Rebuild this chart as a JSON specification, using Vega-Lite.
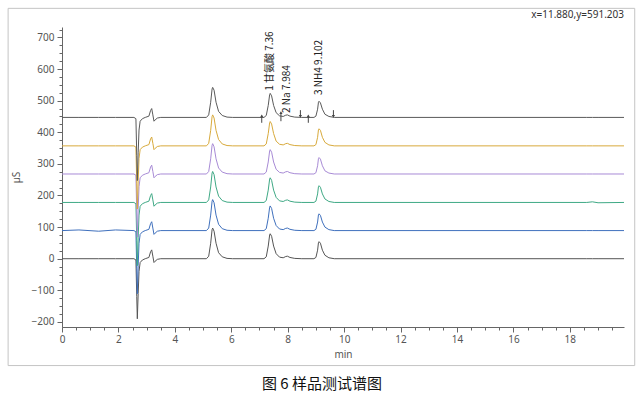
{
  "$schema": "https://vega.github.io/schema/vega-lite/v6.json",
  "width": 562,
  "height": 300,
  "autosize": {"type": "none"},
  "padding": {"left": 62, "top": 27, "right": 17, "bottom": 71},
  "background": "white",
  "config": {"view": {"stroke": null}, "font": "Noto Sans"},
  "title": {"text": "图 6 样品测试谱图", "orient": "bottom", "anchor": "middle", "dx": -21, "offset": 11, "font": "Noto Sans CJK SC", "fontSize": 15, "fontWeight": "normal", "color": "#111"},
  "datasets": {
    "traces": [
      {"t": 0, "s1": 0, "s2": 89, "s3": 178, "s4": 268, "s5": 357, "s6": 447},
      {"t": 0.6, "s1": 0, "s2": 91, "s3": 178, "s4": 268, "s5": 357, "s6": 447},
      {"t": 1.3, "s1": 0, "s2": 87, "s3": 178, "s4": 268, "s5": 357, "s6": 447},
      {"t": 1.9, "s1": 0, "s2": 91, "s3": 178, "s4": 268, "s5": 357, "s6": 447},
      {"t": 2.55, "s1": 0, "s2": 89, "s3": 178, "s4": 268, "s5": 357, "s6": 447},
      {"t": 2.62, "s1": -4, "s2": 85, "s3": 174, "s4": 264, "s5": 353, "s6": 443},
      {"t": 2.65, "s1": -120, "s2": -31, "s3": 58, "s4": 148, "s5": 237, "s6": 327},
      {"t": 2.67, "s1": -190, "s2": -111, "s3": -22, "s4": 68, "s5": 157, "s6": 247},
      {"t": 2.7, "s1": -110, "s2": -21, "s3": 68, "s4": 158, "s5": 247, "s6": 337},
      {"t": 2.73, "s1": -40, "s2": 49, "s3": 138, "s4": 228, "s5": 317, "s6": 407},
      {"t": 2.77, "s1": -12, "s2": 77, "s3": 166, "s4": 256, "s5": 345, "s6": 435},
      {"t": 2.85, "s1": -4, "s2": 85, "s3": 174, "s4": 264, "s5": 353, "s6": 443},
      {"t": 2.95, "s1": 0, "s2": 89, "s3": 178, "s4": 268, "s5": 357, "s6": 447},
      {"t": 3.08, "s1": 4, "s2": 93, "s3": 182, "s4": 272, "s5": 361, "s6": 451},
      {"t": 3.14, "s1": 22, "s2": 111, "s3": 200, "s4": 290, "s5": 379, "s6": 469},
      {"t": 3.18, "s1": 28, "s2": 117, "s3": 206, "s4": 296, "s5": 385, "s6": 475},
      {"t": 3.22, "s1": 8, "s2": 97, "s3": 186, "s4": 276, "s5": 365, "s6": 455},
      {"t": 3.26, "s1": -12, "s2": 77, "s3": 166, "s4": 256, "s5": 345, "s6": 435},
      {"t": 3.3, "s1": -8, "s2": 81, "s3": 170, "s4": 260, "s5": 349, "s6": 439},
      {"t": 3.38, "s1": -2, "s2": 87, "s3": 176, "s4": 266, "s5": 355, "s6": 445},
      {"t": 3.5, "s1": 0, "s2": 89, "s3": 178, "s4": 268, "s5": 357, "s6": 447},
      {"t": 5.12, "s1": 0, "s2": 89, "s3": 178, "s4": 268, "s5": 357, "s6": 447},
      {"t": 5.2, "s1": 8, "s2": 97, "s3": 186, "s4": 276, "s5": 365, "s6": 455},
      {"t": 5.27, "s1": 49, "s2": 138, "s3": 227, "s4": 316, "s5": 406, "s6": 495},
      {"t": 5.32, "s1": 92, "s2": 182, "s3": 271, "s4": 359, "s5": 450, "s6": 537},
      {"t": 5.34, "s1": 97, "s2": 187, "s3": 276, "s4": 364, "s5": 455, "s6": 542},
      {"t": 5.39, "s1": 87, "s2": 177, "s3": 266, "s4": 354, "s5": 445, "s6": 533},
      {"t": 5.46, "s1": 49, "s2": 138, "s3": 227, "s4": 316, "s5": 406, "s6": 495},
      {"t": 5.55, "s1": 19, "s2": 109, "s3": 198, "s4": 287, "s5": 377, "s6": 466},
      {"t": 5.68, "s1": 6, "s2": 95, "s3": 184, "s4": 274, "s5": 363, "s6": 453},
      {"t": 5.85, "s1": 1, "s2": 90, "s3": 179, "s4": 269, "s5": 358, "s6": 448},
      {"t": 6.05, "s1": 0, "s2": 89, "s3": 178, "s4": 268, "s5": 357, "s6": 447},
      {"t": 7.16, "s1": 0, "s2": 89, "s3": 178, "s4": 268, "s5": 357, "s6": 447},
      {"t": 7.24, "s1": 6, "s2": 95, "s3": 184, "s4": 274, "s5": 363, "s6": 453},
      {"t": 7.31, "s1": 40, "s2": 128, "s3": 217, "s4": 306, "s5": 396, "s6": 485},
      {"t": 7.36, "s1": 75, "s2": 163, "s3": 252, "s4": 341, "s5": 430, "s6": 519},
      {"t": 7.38, "s1": 79, "s2": 167, "s3": 256, "s4": 345, "s5": 434, "s6": 523},
      {"t": 7.43, "s1": 71, "s2": 159, "s3": 248, "s4": 337, "s5": 426, "s6": 515},
      {"t": 7.5, "s1": 40, "s2": 128, "s3": 217, "s4": 306, "s5": 396, "s6": 485},
      {"t": 7.59, "s1": 16, "s2": 105, "s3": 194, "s4": 283, "s5": 372, "s6": 462},
      {"t": 7.71, "s1": 5, "s2": 94, "s3": 183, "s4": 273, "s5": 362, "s6": 452},
      {"t": 7.84, "s1": 3, "s2": 92, "s3": 181, "s4": 271, "s5": 360, "s6": 450},
      {"t": 7.93, "s1": 7, "s2": 96, "s3": 185, "s4": 275, "s5": 364, "s6": 454},
      {"t": 7.99, "s1": 8, "s2": 97, "s3": 186, "s4": 276, "s5": 365, "s6": 455},
      {"t": 8.08, "s1": 4, "s2": 93, "s3": 182, "s4": 272, "s5": 361, "s6": 451},
      {"t": 8.25, "s1": 1, "s2": 90, "s3": 179, "s4": 269, "s5": 358, "s6": 448},
      {"t": 8.5, "s1": 0, "s2": 89, "s3": 178, "s4": 268, "s5": 357, "s6": 447},
      {"t": 8.93, "s1": 0, "s2": 89, "s3": 178, "s4": 268, "s5": 357, "s6": 447},
      {"t": 9.0, "s1": 4, "s2": 93, "s3": 182, "s4": 272, "s5": 361, "s6": 451},
      {"t": 9.06, "s1": 27, "s2": 116, "s3": 205, "s4": 294, "s5": 384, "s6": 473},
      {"t": 9.09, "s1": 51, "s2": 139, "s3": 228, "s4": 317, "s5": 408, "s6": 495},
      {"t": 9.11, "s1": 54, "s2": 142, "s3": 231, "s4": 320, "s5": 411, "s6": 498},
      {"t": 9.16, "s1": 49, "s2": 137, "s3": 226, "s4": 315, "s5": 406, "s6": 493},
      {"t": 9.23, "s1": 27, "s2": 116, "s3": 205, "s4": 294, "s5": 384, "s6": 473},
      {"t": 9.32, "s1": 11, "s2": 100, "s3": 189, "s4": 278, "s5": 368, "s6": 457},
      {"t": 9.46, "s1": 3, "s2": 92, "s3": 181, "s4": 271, "s5": 360, "s6": 450},
      {"t": 9.65, "s1": 0, "s2": 89, "s3": 178, "s4": 268, "s5": 357, "s6": 447},
      {"t": 18.6, "s1": 0, "s2": 89, "s3": 178, "s4": 268, "s5": 357, "s6": 447},
      {"t": 18.8, "s1": 0, "s2": 89, "s3": 180, "s4": 268, "s5": 357, "s6": 447},
      {"t": 19.0, "s1": 0, "s2": 89, "s3": 177, "s4": 268, "s5": 357, "s6": 447},
      {"t": 19.92, "s1": 0, "s2": 89, "s3": 178, "s4": 268, "s5": 357, "s6": 447}
    ],
    "markers": [
      {"t": 7.08, "lo": 430, "hi": 452, "dir": "up", "tip": 452},
      {"t": 7.76, "lo": 435, "hi": 462, "dir": "up", "tip": 462},
      {"t": 8.45, "lo": 450, "hi": 470, "dir": "down", "tip": 450},
      {"t": 8.73, "lo": 430, "hi": 452, "dir": "up", "tip": 452},
      {"t": 9.62, "lo": 450, "hi": 470, "dir": "down", "tip": 450}
    ],
    "labels": [
      {"t": 7.38, "v": 531, "label": "1 甘氨酸 7.36"},
      {"t": 7.99, "v": 461, "label": "2 Na 7.984"},
      {"t": 9.1, "v": 518, "label": "3 NH4 9.102"}
    ],
    "note": [{"text": "x=11.880,y=591.203"}]
  },
  "layer": [
    {
      "data": {"name": "note"},
      "mark": {"type": "rect", "fill": null, "stroke": "#c4c4c4", "strokeWidth": 1, "clip": false},
      "encoding": {
        "x": {"datum": -1.91, "type": "quantitative", "scale": {"domain": [0, 19.92], "nice": false, "zero": false},
          "axis": {"orient": "bottom", "values": [0,0.5,1,1.5,2,2.5,3,3.5,4,4.5,5,5.5,6,6.5,7,7.5,8,8.5,9,9.5,10,10.5,11,11.5,12,12.5,13,13.5,14,14.5,15,15.5,16,16.5,17,17.5,18,18.5,19,19.5], "labels": false, "domain": false, "grid": false, "title": null, "tickSize": 3, "tickColor": "#666"}},
        "x2": {"datum": 20.3},
        "y": {"datum": 792, "type": "quantitative", "scale": {"domain": [-216, 733], "nice": false, "zero": false},
          "axis": {"orient": "left", "values": [-200,-175,-150,-125,-100,-75,-50,-25,0,25,50,75,100,125,150,175,200,225,250,275,300,325,350,375,400,425,450,475,500,525,550,575,600,625,650,675,700,725], "labels": false, "domain": false, "grid": false, "title": null, "tickSize": 3, "tickColor": "#666"}},
        "y2": {"datum": -338}
      }
    },
    {
      "data": {"name": "traces"},
      "transform": [{"fold": ["s1", "s2", "s3", "s4", "s5", "s6"], "as": ["series", "uS"]}],
      "mark": {"type": "line", "strokeWidth": 1, "clip": true},
      "encoding": {
        "x": {"field": "t", "type": "quantitative", "scale": {"domain": [0, 19.92], "nice": false, "zero": false},
          "axis": {"orient": "bottom", "values": [0,2,4,6,8,10,12,14,16,18], "title": "min", "grid": false, "tickSize": 5, "tickColor": "#666", "domainColor": "#666", "labelColor": "#555", "labelFontSize": 10, "labelFont": "Noto Sans", "labelFlush": false, "labelPadding": 2, "titleFont": "Noto Sans", "titleFontSize": 10, "titleFontWeight": "normal", "titleColor": "#555", "titlePadding": 5}},
        "y": {"field": "uS", "type": "quantitative", "scale": {"domain": [-216, 733], "nice": false, "zero": false},
          "axis": {"orient": "left", "values": [-200,-100,0,100,200,300,400,500,600,700], "title": "µS", "grid": false, "tickSize": 5, "tickColor": "#666", "domainColor": "#666", "labelColor": "#555", "labelFontSize": 10, "labelFont": "Noto Sans", "labelFlush": false, "labelPadding": 3, "titleFont": "Noto Sans", "titleFontSize": 10, "titleFontWeight": "normal", "titleColor": "#555", "titlePadding": 10}},
        "color": {"field": "series", "type": "nominal", "legend": null,
          "scale": {"domain": ["s1", "s2", "s3", "s4", "s5", "s6"], "range": ["#555555", "#3f70bd", "#3fa985", "#a88bd6", "#d8aa3c", "#5a5a5a"]}},
        "order": {"field": "t", "type": "quantitative"}
      }
    },
    {
      "data": {"name": "markers"},
      "mark": {"type": "rule", "color": "#444", "strokeWidth": 1},
      "encoding": {
        "x": {"field": "t", "type": "quantitative", "scale": {"domain": [0, 19.92], "nice": false, "zero": false}, "axis": null},
        "y": {"field": "lo", "type": "quantitative", "scale": {"domain": [-216, 733], "nice": false, "zero": false}, "axis": null},
        "y2": {"field": "hi"}
      }
    },
    {
      "data": {"name": "markers"},
      "mark": {"type": "point", "filled": true, "size": 10, "color": "#444", "opacity": 1},
      "encoding": {
        "x": {"field": "t", "type": "quantitative", "scale": {"domain": [0, 19.92], "nice": false, "zero": false}, "axis": null},
        "y": {"field": "tip", "type": "quantitative", "scale": {"domain": [-216, 733], "nice": false, "zero": false}, "axis": null},
        "shape": {"field": "dir", "type": "nominal", "legend": null, "scale": {"domain": ["up", "down"], "range": ["triangle-up", "triangle-down"]}}
      }
    },
    {
      "data": {"name": "labels"},
      "mark": {"type": "text", "angle": 270, "align": "left", "baseline": "middle", "font": "Noto Sans CJK SC", "fontSize": 10, "color": "#222"},
      "encoding": {
        "x": {"field": "t", "type": "quantitative", "scale": {"domain": [0, 19.92], "nice": false, "zero": false}, "axis": null},
        "y": {"field": "v", "type": "quantitative", "scale": {"domain": [-216, 733], "nice": false, "zero": false}, "axis": null},
        "text": {"field": "label"}
      }
    },
    {
      "data": {"name": "note"},
      "mark": {"type": "text", "align": "right", "baseline": "middle", "font": "Noto Sans", "fontSize": 10, "color": "#333", "clip": false},
      "encoding": {
        "x": {"datum": 19.92, "type": "quantitative", "scale": {"domain": [0, 19.92], "nice": false, "zero": false}, "axis": null},
        "y": {"datum": 770, "type": "quantitative", "scale": {"domain": [-216, 733], "nice": false, "zero": false}, "axis": null},
        "text": {"field": "text"}
      }
    }
  ],
  "resolve": {"axis": {"x": "independent", "y": "independent"}}
}
